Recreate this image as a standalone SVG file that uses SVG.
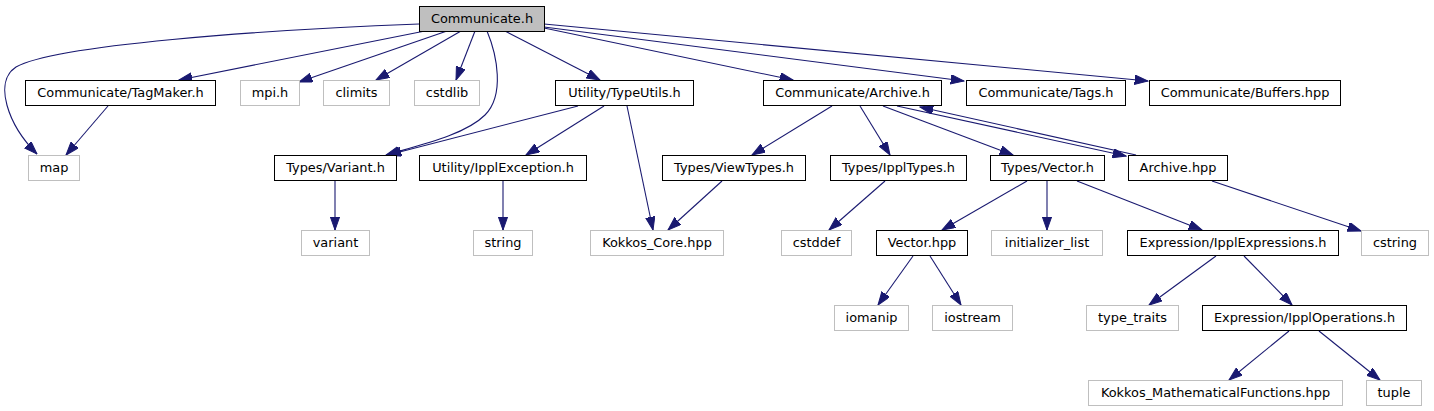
<svg xmlns="http://www.w3.org/2000/svg" width="1434" height="411" viewBox="0 0 1434 411">
<style>
.n rect{fill:#ffffff;stroke:#000000;stroke-width:1}
.n.ext rect{stroke:#bfbfbf}
.n.main rect{fill:#bfbfbf}
.n text{font-family:"DejaVu Sans",sans-serif;font-size:12.9px;fill:#000000;text-anchor:middle}
#edges path{fill:none;stroke:#191970;stroke-width:1.1;marker-end:url(#ah)}
</style>
<defs>
<marker id="ah" markerUnits="userSpaceOnUse" markerWidth="14" markerHeight="10" refX="13.3" refY="4.7" orient="auto" viewBox="0 0 14 10">
<path d="M0,0 L13.3,4.7 L0,9.4 z" fill="#191970" stroke="#191970" stroke-width="1"/>
</marker>
</defs>
<rect width="1434" height="411" fill="#ffffff"/>
<g id="edges">
<path d="M419,24 C260,30 55,45 16,67 C-7,82 8,125 37,154"/>
<path d="M425,31 L179,80"/>
<path d="M447,31 L299,82"/>
<path d="M461,31 L376,80"/>
<path d="M475,31 L456,80"/>
<path d="M487,31 C497,55 505,95 485,115 C465,135 420,145 386,155"/>
<path d="M505,31 L600,80"/>
<path d="M544,28 L793,80"/>
<path d="M544,27 L964,81"/>
<path d="M544,24 L1148,81"/>
<path d="M108,106 L66,155"/>
<path d="M578,106 L388,155"/>
<path d="M604,106 L526,155"/>
<path d="M627,106 L653,230"/>
<path d="M722,181 L668,230"/>
<path d="M503,181 L503,230"/>
<path d="M335,181 L335,230"/>
<path d="M832,106 L752,155"/>
<path d="M860,106 L890,155"/>
<path d="M883,106 L1013,155"/>
<path d="M897,106 L1126,156"/>
<path d="M1136,155 L920,107"/>
<path d="M885,181 L829,230"/>
<path d="M1027,181 L942,230"/>
<path d="M1047,181 L1047,230"/>
<path d="M1077,181 L1202,230"/>
<path d="M1212,181 L1361,231"/>
<path d="M913,256 L878,305"/>
<path d="M930,256 L961,305"/>
<path d="M1216,256 L1149,305"/>
<path d="M1244,256 L1292,305"/>
<path d="M1289,331 L1229,380"/>
<path d="M1319,331 L1380,380"/>
</g>
<g id="n_communicate_h" class="n main"><rect x="419.5" y="6.5" width="125" height="25"/><text x="482" y="23">Communicate.h</text></g>
<g id="n_tagmaker" class="n"><rect x="25.5" y="80.5" width="190" height="25"/><text x="120.5" y="97">Communicate/TagMaker.h</text></g>
<g id="n_mpi" class="n ext"><rect x="240.5" y="80.5" width="59" height="25"/><text x="270" y="97">mpi.h</text></g>
<g id="n_climits" class="n ext"><rect x="323.5" y="80.5" width="66" height="25"/><text x="356.5" y="97">climits</text></g>
<g id="n_cstdlib" class="n ext"><rect x="414.5" y="80.5" width="65" height="25"/><text x="447" y="97">cstdlib</text></g>
<g id="n_typeutils" class="n"><rect x="555.5" y="80.5" width="138" height="25"/><text x="624.5" y="97">Utility/TypeUtils.h</text></g>
<g id="n_archive_h" class="n"><rect x="763.5" y="80.5" width="178" height="25"/><text x="852.5" y="97">Communicate/Archive.h</text></g>
<g id="n_tags" class="n"><rect x="966.5" y="80.5" width="159" height="25"/><text x="1046" y="97">Communicate/Tags.h</text></g>
<g id="n_buffers" class="n"><rect x="1149.5" y="80.5" width="191" height="25"/><text x="1245" y="97">Communicate/Buffers.hpp</text></g>
<g id="n_map" class="n ext"><rect x="28.5" y="155.5" width="51" height="25"/><text x="54" y="172">map</text></g>
<g id="n_variant_h" class="n"><rect x="274.5" y="155.5" width="122" height="25"/><text x="335.5" y="172">Types/Variant.h</text></g>
<g id="n_ipplexception" class="n"><rect x="419.5" y="155.5" width="167" height="25"/><text x="503" y="172">Utility/IpplException.h</text></g>
<g id="n_viewtypes" class="n"><rect x="662.5" y="155.5" width="143" height="25"/><text x="734" y="172">Types/ViewTypes.h</text></g>
<g id="n_ippltypes" class="n"><rect x="830.5" y="155.5" width="136" height="25"/><text x="898.5" y="172">Types/IpplTypes.h</text></g>
<g id="n_vector_h" class="n"><rect x="990.5" y="155.5" width="114" height="25"/><text x="1047.5" y="172">Types/Vector.h</text></g>
<g id="n_archive_hpp" class="n"><rect x="1128.5" y="155.5" width="99" height="25"/><text x="1178" y="172">Archive.hpp</text></g>
<g id="n_variant" class="n ext"><rect x="301.5" y="230.5" width="68" height="25"/><text x="335.5" y="247">variant</text></g>
<g id="n_string" class="n ext"><rect x="473.5" y="230.5" width="59" height="25"/><text x="503" y="247">string</text></g>
<g id="n_kokkos_core" class="n ext"><rect x="590.5" y="230.5" width="133" height="25"/><text x="657" y="247">Kokkos_Core.hpp</text></g>
<g id="n_cstddef" class="n ext"><rect x="781.5" y="230.5" width="70" height="25"/><text x="816.5" y="247">cstddef</text></g>
<g id="n_vector_hpp" class="n"><rect x="876.5" y="230.5" width="91" height="25"/><text x="922" y="247">Vector.hpp</text></g>
<g id="n_initializer_list" class="n ext"><rect x="991.5" y="230.5" width="111" height="25"/><text x="1047" y="247">initializer_list</text></g>
<g id="n_ipplexpressions" class="n"><rect x="1127.5" y="230.5" width="211" height="25"/><text x="1233" y="247">Expression/IpplExpressions.h</text></g>
<g id="n_cstring" class="n ext"><rect x="1361.5" y="230.5" width="67" height="25"/><text x="1395" y="247">cstring</text></g>
<g id="n_iomanip" class="n ext"><rect x="834.5" y="305.5" width="74" height="25"/><text x="871.5" y="322">iomanip</text></g>
<g id="n_iostream" class="n ext"><rect x="932.5" y="305.5" width="80" height="25"/><text x="972.5" y="322">iostream</text></g>
<g id="n_type_traits" class="n ext"><rect x="1086.5" y="305.5" width="92" height="25"/><text x="1132.5" y="322">type_traits</text></g>
<g id="n_ipploperations" class="n"><rect x="1202.5" y="305.5" width="204" height="25"/><text x="1304.5" y="322">Expression/IpplOperations.h</text></g>
<g id="n_kokkos_math" class="n ext"><rect x="1088.5" y="380.5" width="254" height="25"/><text x="1215.5" y="397">Kokkos_MathematicalFunctions.hpp</text></g>
<g id="n_tuple" class="n ext"><rect x="1366.5" y="380.5" width="55" height="25"/><text x="1394" y="397">tuple</text></g>
</svg>
